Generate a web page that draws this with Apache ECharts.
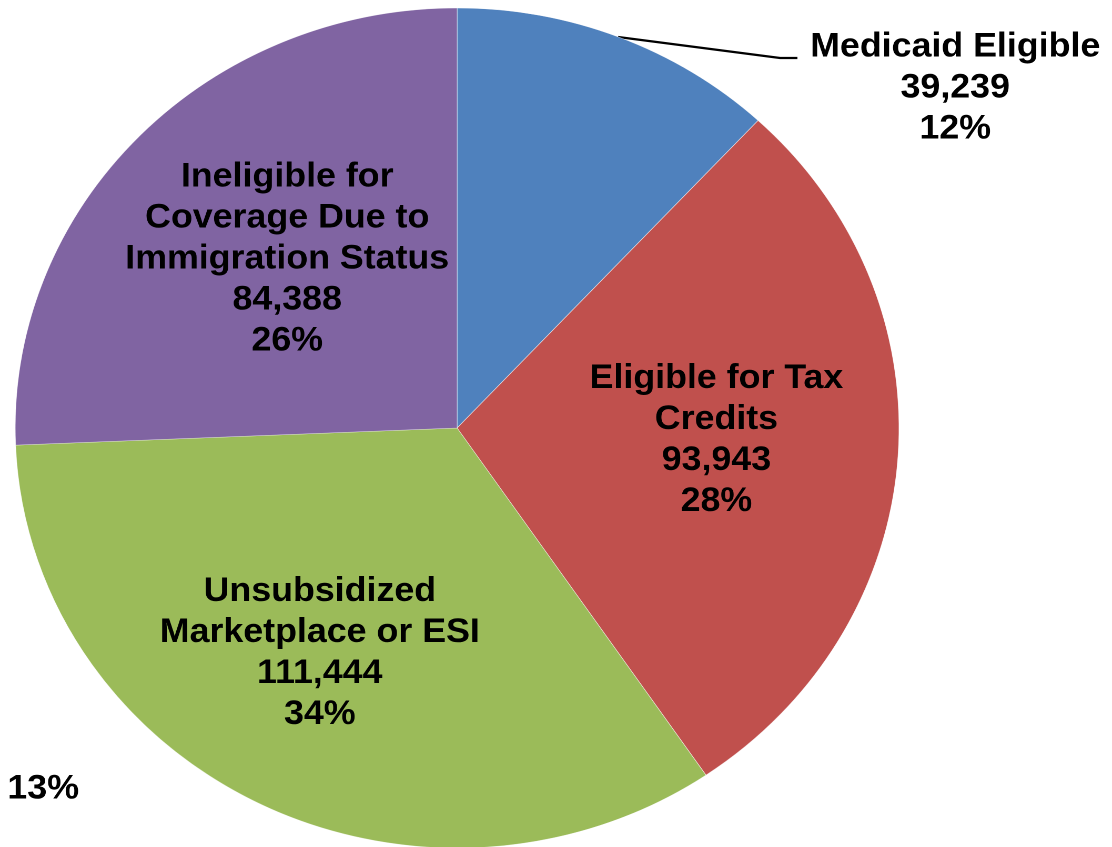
<!DOCTYPE html>
<html>
<head>
<meta charset="utf-8">
<script src="https://cdn.jsdelivr.net/npm/echarts@6/dist/echarts.min.js"></script>
<style>
  html, body { margin: 0; padding: 0; background: #fff; overflow: hidden; }
  #wrap { width: 1112px; height: 847px; overflow: hidden; }
  /* the pie is drawn slightly wider than tall */
  #chart { width: 1057px; height: 847px; transform: scaleX(1.052); transform-origin: 0 0; }
</style>
</head>
<body>
<div id="wrap"><div id="chart"></div></div>
<script>
// Coverage groups and their counts
const categories = [
  'Medicaid Eligible',
  'Eligible for Tax\nCredits',
  'Unsubsidized\nMarketplace or ESI',
  'Ineligible for\nCoverage Due to\nImmigration Status'
];
const values = [39239, 93943, 111444, 84388];
const sliceColors = ['#4F81BD', '#C0504D', '#9BBB59', '#8064A2'];
const extraNote = '13%';

// label anchor points (chart pixel space)
const labelAnchors = [[908, 88], [681, 440], [304, 653], [273, 259]];
// leader line for the outside label
const leaderPoints = [[587.5, 37], [741.5, 58], [758, 58]];

const fontFamily = '"Liberation Sans", Arial, sans-serif';

const chart = echarts.init(document.getElementById('chart'), null, { renderer: 'canvas', devicePixelRatio: 2 });

const fmt = n => n.toLocaleString('en-US');

chart.setOption({
  animation: false,
  backgroundColor: '#ffffff',
  series: [{
    type: 'pie',
    center: [434.5, 428],
    radius: 420,
    startAngle: 90,
    clockwise: true,
    percentPrecision: 0,
    avoidLabelOverlap: false,
    emphasis: { disabled: true },
    itemStyle: { borderColor: 'rgba(255,255,255,0.6)', borderWidth: 0.6 },
    label: {
      show: true,
      position: 'inside',
      color: '#000',
      fontFamily: fontFamily,
      fontWeight: 'bold',
      fontSize: 34,
      lineHeight: 41,
      align: 'center',
      formatter: p => p.name + '\n' + fmt(p.value) + '\n' + p.percent + '%'
    },
    labelLine: { show: false },
    labelLayout: p => {
      const a = labelAnchors[p.dataIndex];
      const out = { x: a[0], y: a[1], align: 'center', verticalAlign: 'middle' };
      if (p.dataIndex === 0) out.labelLinePoints = leaderPoints;
      return out;
    },
    data: categories.map((c, i) => ({
      name: c,
      value: values[i],
      itemStyle: { color: sliceColors[i] },
      label: i === 0 ? { position: 'outside' } : undefined,
      labelLine: i === 0 ? { show: true, length: 20, length2: 20, smooth: false, lineStyle: { color: '#000', width: 2.2 } } : undefined
    }))
  }],
  graphic: [{
    type: 'text',
    left: 7,
    top: 772,
    style: {
      text: extraNote,
      fill: '#000',
      font: 'bold 34px ' + fontFamily
    }
  }]
});
</script>
</body>
</html>
